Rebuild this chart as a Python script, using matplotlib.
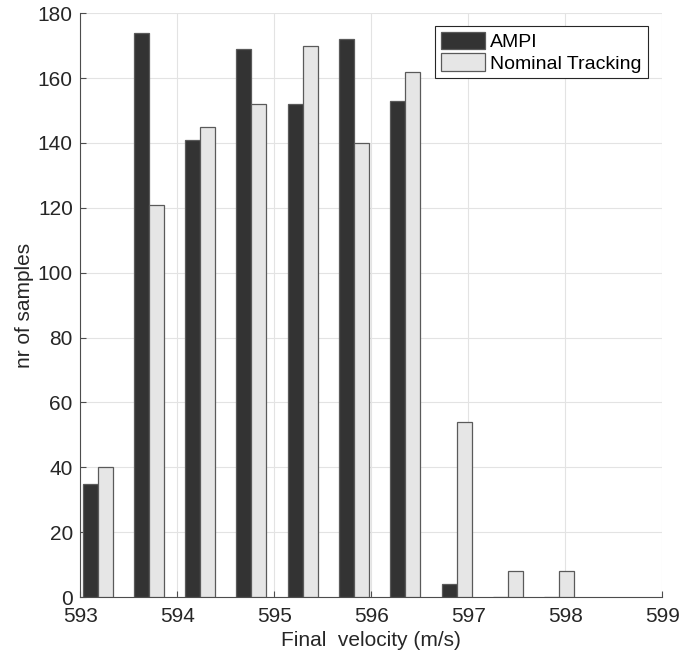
import matplotlib
matplotlib.use("Agg")
import numpy as np
import matplotlib.pyplot as plt

# bin centres (m/s) and counts per bin
centers = [593.176, 593.705, 594.234, 594.763, 595.292, 595.821, 596.350, 596.879, 597.408, 597.937]
ampi = [35, 174, 141, 169, 152, 172, 153, 4, 0, 0]
nominal = [40, 121, 145, 152, 170, 140, 162, 54, 8, 8]

plt.rcParams['font.family'] = ['Liberation Sans', 'DejaVu Sans']

fig = plt.figure(figsize=(6.82, 6.59), dpi=100)
ax = fig.add_axes([0.118, 0.094, 0.853, 0.886])

x = np.array(centers)
w = 0.155
ax.bar(x - w / 2, ampi, width=w, color='#333333', edgecolor='#5a5a5a', linewidth=0.9,
       label='AMPI', zorder=3)
ax.bar(x + w / 2, nominal, width=w, color='#e6e6e6', edgecolor='#5a5a5a', linewidth=0.9,
       label='Nominal Tracking', zorder=3)

ax.set_xlim(593, 599)
ax.set_ylim(0, 180)
ax.set_xticks(range(593, 600))
ax.set_yticks(range(0, 181, 20))
ax.grid(True, color='#e3e3e3', linewidth=0.8, zorder=0)
ax.set_axisbelow(True)

for s in ['top', 'right']:
    ax.spines[s].set_visible(False)
for s in ['left', 'bottom']:
    ax.spines[s].set_color('#4d4d4d')
    ax.spines[s].set_linewidth(0.8)
ax.tick_params(direction='in', length=4.5, color='#4d4d4d', labelsize=15,
               labelcolor='#262626')
ax.tick_params(axis='y', pad=5.5)
ax.tick_params(axis='x', pad=7)

ax.set_xlabel('Final  velocity (m/s)', fontsize=15, color='#262626', labelpad=4)
ax.set_ylabel('nr of samples', fontsize=15, color='#262626', labelpad=3)

leg = ax.legend(loc='upper right', bbox_to_anchor=(0.975, 0.978), fontsize=14,
                fancybox=False, framealpha=1, edgecolor='#262626',
                handlelength=2.3, handleheight=1.0, handletextpad=0.25,
                borderpad=0.3, labelspacing=0.1, borderaxespad=0)
leg.get_frame().set_linewidth(0.8)

fig.savefig('out.png', dpi=100)
